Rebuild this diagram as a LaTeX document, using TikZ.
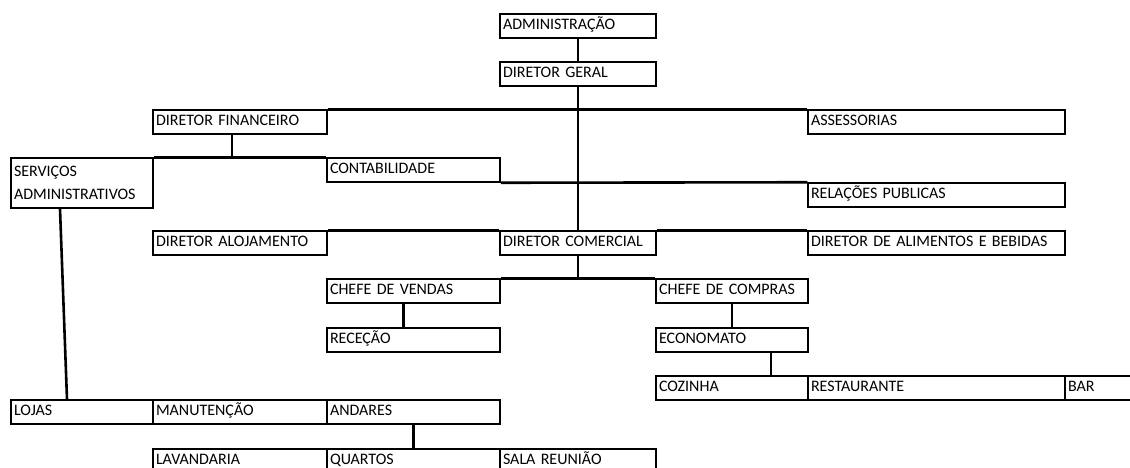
\documentclass[tikz,border=0pt]{standalone}
\usepackage{fontspec}
\setmainfont{Carlito}
\usetikzlibrary{positioning, calc}
\tikzstyle{cellbase} = [rectangle, draw, line width=1.5pt, inner xsep=3pt, inner ysep=0pt, align=left, font=\fontsize{16}{23}\selectfont]
\tikzstyle{cell} = [cellbase, minimum height=24pt, text height=11pt, text depth=4pt]
\tikzstyle{link} = [line width=2.6pt]

\begin{document}
\begin{tikzpicture}[x=1pt, y=-1pt]
    \useasboundingbox (0,0) rectangle (1130,468);
    \clip (0,0) rectangle (1130,468);

    \node[cell, text width=150pt] at (578, 26) (adm) {ADMINISTRAÇÃO};
    \node[cell, text width=150pt] at (578, 74) (geral) {DIRETOR GERAL};

    \node[cell, text width=168pt] at (240, 122) (fin) {DIRETOR FINANCEIRO};
    \node[cell, text width=251pt] at (936.5, 122) (assess) {ASSESSORIAS};
    \node[cellbase, text width=136pt, minimum height=50pt] at (82, 183) (serv) {SERVIÇOS\\ADMINISTRATIVOS};
    \node[cell, text width=167pt] at (413.5, 170) (contab) {CONTABILIDADE};
    \node[cell, text width=251pt] at (936.5, 195) (relacoes) {RELAÇÕES PUBLICAS};

    \node[cell, text width=168pt] at (240, 243) (aloj) {DIRETOR ALOJAMENTO};
    \node[cell, text width=150pt] at (578, 243) (comercial) {DIRETOR COMERCIAL};
    \node[cell, text width=251pt] at (936.5, 243) (alim) {DIRETOR DE ALIMENTOS E BEBIDAS};

        \node[cell, text width=167pt] at (413.5, 291) (vendas) {CHEFE DE VENDAS};
        \node[cell, text width=146pt] at (732, 291) (compras) {CHEFE DE COMPRAS};
        \node[cell, text width=167pt] at (413.5, 340) (rececao) {RECEÇÃO};
        \node[cell, text width=146pt] at (732, 340) (economato) {ECONOMATO};

        \node[cell, text width=146pt] at (732, 388) (cozinha) {COZINHA};
        \node[cell, text width=251pt] at (936.5, 388) (restaurante) {RESTAURANTE};
        \node[cell, text width=114pt] at (1125, 388) (bar) {BAR};

    \node[cell, text width=136pt] at (82, 412) (lojas) {LOJAS};
    \node[cell, text width=168pt] at (240, 412) (manutencao) {MANUTENÇÃO};
    \node[cell, text width=167pt] at (413.5, 412) (andares) {ANDARES};
    \node[cell, text width=168pt] at (240, 461) (lavandaria) {LAVANDARIA};
    \node[cell, text width=167pt] at (413.5, 461) (quartos) {QUARTOS};
    \node[cell, text width=150pt] at (578, 461) (sala) {SALA REUNIÃO};

        \draw[link] (adm) -- (geral);
        \draw[link] (geral) -- (comercial);
        \draw[link] (fin.north east) -- (assess.north west);
        \draw[link] (serv.north east) -- (contab.north west);
        \draw[link] ([xshift=-8pt]fin.south) -- ([xshift=-8pt]fin.south |- contab.north);
        \draw[link] (contab.south east) -- (relacoes.north west);
        \draw[link] (aloj.north east) -- (comercial.north west);
        \draw[link] (comercial.north east) -- (alim.north west);
        \draw[link] (vendas.north east) -- (compras.north west);
        \draw[link] (comercial.south) -- (comercial.south |- vendas.north);
        \draw[link] ([xshift=-10pt]vendas.south) -- ([xshift=-10pt]rececao.north);
        \draw[link] (compras) -- (economato);
        \draw[link] ([xshift=39pt]economato.south) -- ([xshift=39pt]cozinha.north);
        \draw[link] ([xshift=-22pt]serv.south) -- ([xshift=-15pt]lojas.north);
        \draw[link] (andares) -- (quartos);
\end{tikzpicture}
\end{document}
